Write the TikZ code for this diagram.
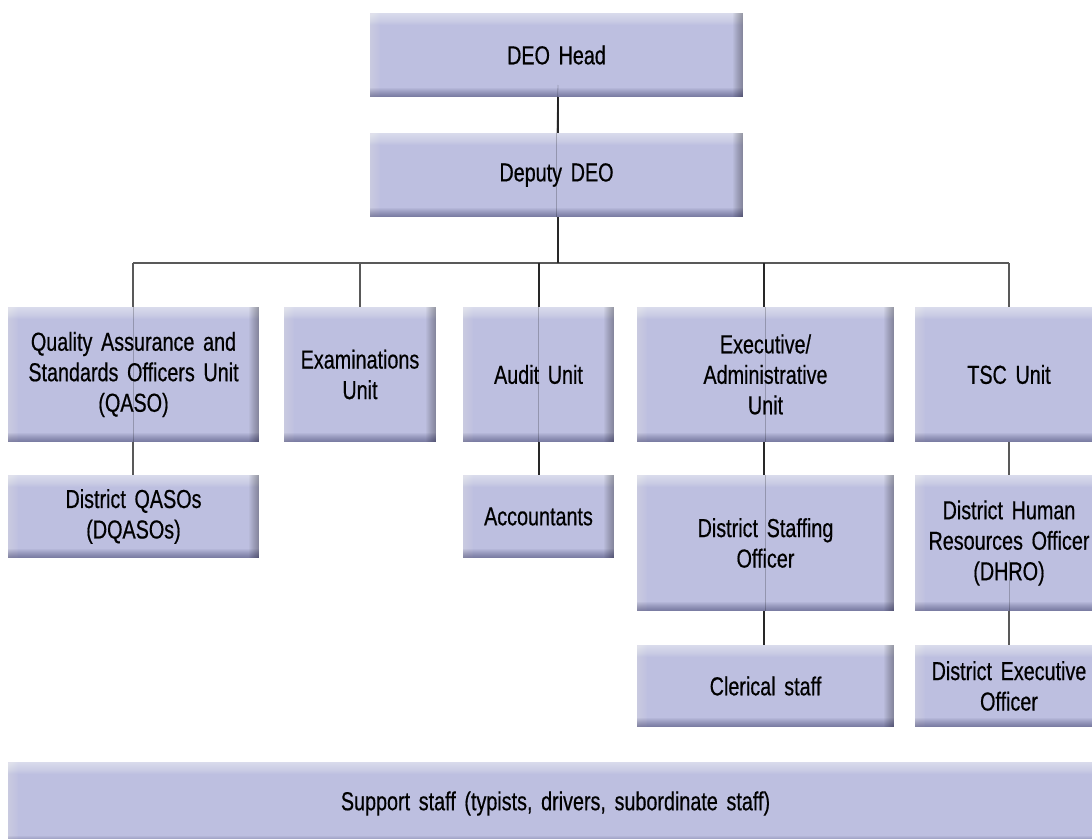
\documentclass[tikz,border=0pt]{standalone}
\usepackage{fontspec}
\setmainfont{Liberation Sans}[FakeStretch=0.76,FakeBold=0.5,WordSpace=0.7]
\definecolor{boxc}{RGB}{189,191,224}
\definecolor{linec}{RGB}{40,40,40}
\tikzset{
  orgbox/.style={draw=none, fill=boxc, inner sep=0pt, align=center,
    font=\fontsize{26}{30.5}\selectfont, text=black,
    path picture={
      \foreach \i in {1,...,12}{\fill[white, fill opacity=0.055] (path picture bounding box.north west) rectangle ([yshift=-\i pt]path picture bounding box.north east);}
      \foreach \i in {1,...,10}{\fill[white, fill opacity=0.03] (path picture bounding box.south west) rectangle ([xshift=\i pt]path picture bounding box.north west);}
      \foreach \i in {1,...,10}{\fill[black, fill opacity=0.03] (path picture bounding box.south east) rectangle ([xshift=-\i pt]path picture bounding box.north east);}
      \foreach \i in {1,...,9}{\fill[black!80!blue, fill opacity=0.045] (path picture bounding box.south west) rectangle ([yshift=\i pt]path picture bounding box.south east);}
    }},
  conn/.style={draw=linec, line width=1.6pt},
  bus/.style={draw=black!65, line width=1.3pt},
  thru/.style={draw=black, line width=0.8pt, draw opacity=0.22},
}
\newcommand{\bx}[7]{% name, x1, y1, x2, y2, text, margin
  \node[orgbox, minimum width={#4-#2}, minimum height={#5-#3}, text width={#4-#2-#7}] (#1) at ({(#2+#4)/2},{(#3+#5)/2}) {#6};}
\begin{document}
\begin{tikzpicture}[x=1pt,y=-1pt]
\useasboundingbox (0,0) rectangle (1092,838);
\begin{scope}
\clip (0,0) rectangle (1092,838);
% connectors (behind)
\coordinate (busL) at (133,263);
\coordinate (busR) at (1009,263);
\coordinate (busM) at (558,263);
\draw[bus] (busL) -- (busR);
\draw[conn] (558,96) -- (558,134);
\draw[conn] (558,216) -- (busM);
\draw[bus] (busL) -- (133,308);
\draw[bus] (360,263) -- (360,307);
\draw[conn] (539,263) -- (539,307);
\draw[conn] (764,263) -- (764,307);
\draw[bus] (busR) -- (1009,307);
\draw[bus] (133,441) -- (133,476);
\draw[conn] (539,441) -- (539,476);
\draw[conn] (764,441) -- (764,476);
\draw[bus] (1009,441) -- (1009,476);
\draw[conn] (764,610) -- (764,646);
\draw[bus] (1009,610) -- (1009,646);
% boxes
\bx{head}{370}{13}{743}{97}{DEO Head}{20}
\bx{deputy}{370}{133}{743}{217}{Deputy DEO}{20}
\bx{qaso}{8}{307}{259}{442}{Quality Assurance and\\Standards Officers Unit\\(QASO)}{0}
\bx{exam}{284}{307}{436}{442}{Examinations\\Unit}{0}
\bx{audit}{463}{307}{614}{442}{Audit Unit}{0}
\bx{exec}{637}{307}{894}{442}{Executive/\\Administrative\\Unit}{0}
\bx{tsc}{915}{307}{1103}{442}{TSC Unit}{0}
\bx{dqaso}{8}{475}{259}{558}{District QASOs\\(DQASOs)}{0}
\bx{acct}{463}{475}{614}{558}{Accountants}{0}
\bx{staff}{637}{475}{894}{611}{District Staffing\\Officer}{0}
\bx{dhro}{915}{475}{1103}{611}{District Human\\Resources Officer\\(DHRO)}{0}
\bx{cler}{637}{645}{894}{727}{Clerical staff}{0}
\bx{dexo}{915}{645}{1103}{727}{District Executive\\Officer}{0}
\bx{supp}{8}{762}{1103}{845}{\raisebox{4pt}{Support staff (typists, drivers, subordinate staff)}}{0}
% faint lines seen through the boxes
\draw[thru] (558,85) -- (deputy.north) -- (deputy.south);
\draw[thru] (qaso.north) -- (qaso.south);
\draw[thru] (audit.north) -- (audit.south);
\draw[thru] (exec.north) -- (exec.south);
\draw[thru] (staff.north) -- (staff.south);
\draw[thru] (1009,560) -- (dhro.south);
\end{scope}
\end{tikzpicture}
\end{document}
